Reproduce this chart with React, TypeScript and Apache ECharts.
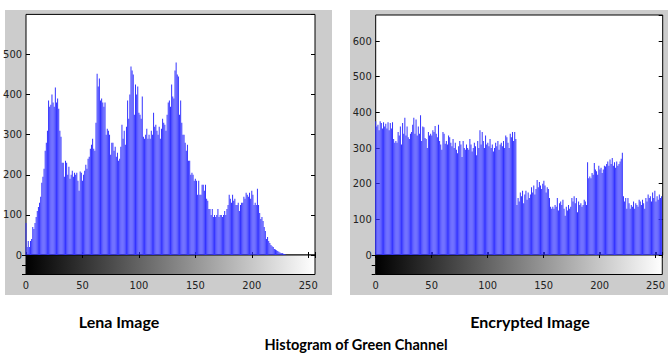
import React, { useEffect, useRef } from "react";
import * as echarts from "echarts";

// Green-channel histogram counts, bins 0..255
const LENA_COUNTS = [
  80, 20, 35, 20, 35, 40, 70, 65, 80, 95, 110, 120, 130, 145, 180, 195,
  215, 260, 280, 310, 385, 370, 375, 400, 380, 370, 418, 380, 390, 365, 310, 295,
  230, 230, 195, 235, 230, 200, 220, 190, 200, 210, 195, 205, 200, 205, 185, 160,
  208, 205, 185, 200, 210, 225, 215, 240, 245, 265, 275, 290, 265, 260, 330, 452,
  420, 440, 385, 390, 380, 370, 380, 300, 315, 310, 300, 250, 280, 280, 260, 270,
  245, 255, 235, 240, 270, 325, 290, 310, 275, 320, 385, 340, 400, 470, 460, 450,
  350, 425, 400, 420, 355, 350, 340, 395, 295, 290, 300, 315, 290, 300, 290, 310,
  300, 355, 320, 325, 310, 300, 320, 290, 315, 340, 330, 325, 310, 350, 380, 385,
  370, 425, 395, 390, 460, 480, 450, 445, 350, 385, 330, 300, 300, 280, 260, 275,
  235, 235, 200, 205, 200, 185, 190, 185, 150, 185, 150, 150, 175, 175, 160, 175,
  140, 135, 115, 115, 100, 115, 95, 100, 95, 100, 115, 95, 100, 100, 95, 100,
  110, 100, 115, 125, 150, 140, 130, 150, 135, 140, 125, 125, 130, 110, 125, 130,
  130, 145, 140, 155, 150, 145, 155, 140, 160, 150, 125, 130, 125, 165, 125, 105,
  90, 95, 85, 70, 60, 40, 45, 35, 30, 25, 22, 20, 15, 14, 12, 10,
  8, 6, 5, 5, 3, 2, 1, 0, 0, 0, 0, 0, 0, 0, 0, 0,
  0, 0, 0, 0, 0, 0, 0, 0, 0, 0, 0, 0, 0, 0, 0, 0,
];

const ENC_COUNTS = [
  375, 360, 365, 350, 375, 370, 355, 372, 360, 368, 355, 372, 350, 370, 355, 372,
  325, 315, 320, 315, 345, 335, 360, 310, 370, 340, 385, 335, 360, 330, 325, 340,
  345, 365, 385, 340, 380, 335, 360, 340, 392, 320, 360, 358, 328, 325, 300, 345,
  335, 340, 335, 350, 345, 362, 340, 330, 365, 320, 310, 295, 345, 340, 312, 320,
  310, 335, 330, 315, 305, 325, 300, 315, 295, 285, 305, 320, 310, 275, 320, 300,
  295, 310, 300, 295, 325, 310, 290, 300, 315, 305, 280, 320, 300, 350, 310, 345,
  320, 300, 335, 310, 315, 305, 325, 300, 310, 290, 300, 315, 305, 320, 295, 310,
  315, 305, 320, 300, 335, 330, 315, 300, 340, 330, 345, 320, 345, 325, 140, 160,
  150, 175, 165, 180, 145, 170, 180, 155, 175, 160, 170, 190, 175, 195, 170, 185,
  210, 190, 205, 195, 185, 200, 208, 195, 175, 190, 185, 160, 135, 130, 135, 130,
  140, 135, 160, 125, 145, 150, 140, 155, 130, 110, 135, 125, 140, 130, 135, 160,
  150, 165, 145, 160, 120, 150, 140, 145, 135, 140, 155, 150, 140, 260, 215, 220,
  215, 230, 225, 258, 240, 235, 225, 250, 240, 245, 230, 240, 250, 248, 255, 262,
  250, 268, 255, 272, 250, 260, 245, 262, 250, 255, 262, 270, 287, 165, 150, 160,
  130, 160, 145, 130, 140, 135, 150, 130, 145, 140, 135, 155, 150, 140, 155, 145,
  130, 160, 150, 170, 160, 165, 150, 175, 160, 180, 150, 165, 155, 170, 160, 165,
];

const X_MAX = 256;
const X_INTERVAL = 50;
const Y_INTERVAL = 100;
const LENA_Y_MAX = 600;
const ENC_Y_MAX = 673;
const PANEL_TITLES = ["Lena Image", "Encrypted Image"];
const MAIN_TITLE = "Histogram of Green Channel";

const TICK_FONT = "'Liberation Sans Narrow', 'DejaVu Sans Condensed', 'Liberation Sans', sans-serif";
const TITLE_FONT = "Lato, 'Open Sans', sans-serif";

export default function App() {
  const ref = useRef<HTMLDivElement>(null);

  useEffect(() => {
    if (!ref.current) return;
    const chart = echarts.init(ref.current, null, { renderer: "svg" });

    const panels = [
      { left: 26, width: 289, top: 14.4, zero: 255, gradH: 19.5, yMax: LENA_Y_MAX, data: LENA_COUNTS },
      { left: 375.7, width: 287, top: 15, zero: 255, gradH: 19.5, yMax: ENC_Y_MAX, data: ENC_COUNTS },
    ];

    const grids: any[] = [];
    const xAxes: any[] = [];
    const yAxes: any[] = [];
    const series: any[] = [];

    const tick = (len: number) => ({ show: true, inside: true, length: len, lineStyle: { color: "#000", width: 1 } });
    const label = { color: "#222", fontSize: 11, fontFamily: TICK_FONT };

    panels.forEach((p) => {
      const g = grids.length;
      grids.push({
        left: p.left, top: p.top, width: p.width, height: p.zero - p.top,
        show: true, backgroundColor: "#fff", borderColor: "#000", borderWidth: 1,
      });
      grids.push({
        left: p.left, top: p.zero, width: p.width, height: p.gradH,
        show: true, borderColor: "#000", borderWidth: 1,
        backgroundColor: new echarts.graphic.LinearGradient(0, 0, 1, 0, [
          { offset: 0, color: "#000" },
          { offset: 1, color: "#fff" },
        ]),
      });

      const xBars = xAxes.length;
      xAxes.push({
        gridIndex: g, type: "value", min: 0, max: X_MAX, interval: X_INTERVAL, position: "bottom",
        axisLine: { show: false }, axisTick: tick(3), axisLabel: { show: false }, splitLine: { show: false },
      });
      xAxes.push({
        gridIndex: g + 1, type: "value", min: 0, max: X_MAX, interval: X_INTERVAL, position: "bottom",
        axisLine: { show: false }, axisTick: tick(3),
        axisLabel: { ...label, margin: 5, showMaxLabel: false }, splitLine: { show: false },
      });
      xAxes.push({
        gridIndex: g + 1, type: "value", min: 0, max: X_MAX, interval: X_INTERVAL, position: "top",
        axisLine: { show: false }, axisTick: tick(3), axisLabel: { show: false }, splitLine: { show: false },
      });

      const yBars = yAxes.length;
      yAxes.push({
        gridIndex: g, type: "value", min: 0, max: p.yMax, interval: Y_INTERVAL, position: "left",
        axisLine: { show: false }, axisTick: tick(4),
        axisLabel: { ...label, margin: 4, showMaxLabel: false }, splitLine: { show: false },
      });
      yAxes.push({
        gridIndex: g, type: "value", min: 0, max: p.yMax, interval: Y_INTERVAL, position: "right",
        axisLine: { show: false }, axisTick: tick(4), axisLabel: { show: false }, splitLine: { show: false },
      });
      yAxes.push({
        gridIndex: g + 1, type: "value", min: -50, max: 0, position: "left",
        axisLine: { show: false }, axisTick: { show: false }, axisLabel: { show: false }, splitLine: { show: false },
      });
      yAxes.push({
        gridIndex: g + 1, type: "value", min: -50, max: 0, interval: 25, position: "right",
        axisLine: { show: false }, axisTick: tick(4), axisLabel: { show: false }, splitLine: { show: false },
      });

      series.push({
        type: "bar",
        xAxisIndex: xBars,
        yAxisIndex: yBars,
        data: p.data.map((v, k) => [k, v]),
        barWidth: 1,
        itemStyle: { color: "#3333ff" },
        clip: true,
        silent: true,
      });
    });

    const option: any = {
      animation: false,
      backgroundColor: "#fff",
      grid: grids,
      xAxis: xAxes,
      yAxis: yAxes,
      series,
      graphic: [
        { type: "rect", z: -10, shape: { x: 5, y: 10, width: 327, height: 285 }, style: { fill: "#cccccc" }, silent: true },
        { type: "rect", z: -10, shape: { x: 350, y: 10, width: 330, height: 285 }, style: { fill: "#cccccc" }, silent: true },
        {
          type: "text", x: 119, y: 321,
          style: { text: PANEL_TITLES[0], font: `bold 16px ${TITLE_FONT}`, fill: "#000", align: "center", verticalAlign: "middle", textAlign: "center", textVerticalAlign: "middle" },
        },
        {
          type: "text", x: 530, y: 321,
          style: { text: PANEL_TITLES[1], font: `bold 16px ${TITLE_FONT}`, fill: "#000", align: "center", verticalAlign: "middle", textAlign: "center", textVerticalAlign: "middle" },
        },
        {
          type: "text", x: 356, y: 344,
          style: { text: MAIN_TITLE, font: `bold 14.5px ${TITLE_FONT}`, fill: "#000", align: "center", verticalAlign: "middle", textAlign: "center", textVerticalAlign: "middle" },
        },
      ],
    };

    chart.setOption(option);
    return () => chart.dispose();
  }, []);

  return <div ref={ref} style={{ position: "absolute", left: 0, top: 0, width: 668, height: 353 }} />;
}
